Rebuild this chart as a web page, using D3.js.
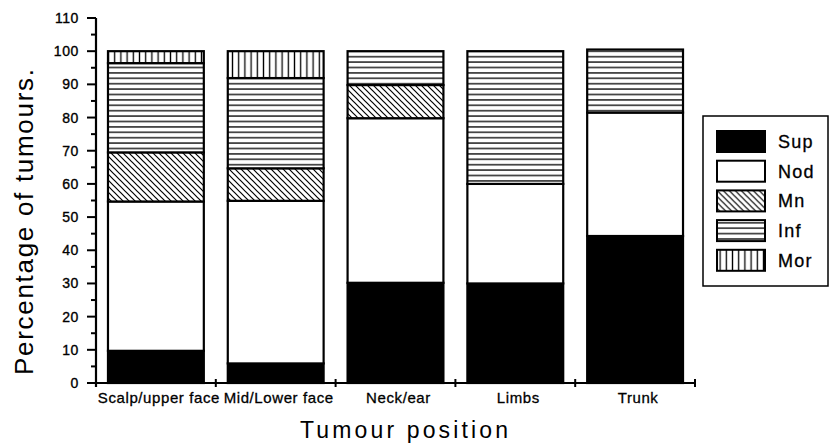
<!DOCTYPE html>
<html>
<head>
<meta charset="utf-8">
<script src="https://cdn.jsdelivr.net/npm/d3@7"></script>
<style>
  html, body { margin: 0; padding: 0; background: #fff; }
  svg { display: block; font-family: "Liberation Sans", Arial, Helvetica, sans-serif; }
</style>
</head>
<body>
<svg id="chart" width="831" height="448"></svg>
<script>
// Tumour type distribution by body site (stacked, % of tumours)
const categories = ["Scalp/upper face", "Mid/Lower face", "Neck/ear", "Limbs", "Trunk"];
const seriesNames = ["Sup", "Nod", "Mn", "Inf", "Mor"];
const sup = [9.7, 5.9, 30.2, 30, 44.3];
const nod = [45, 49, 49.6, 30, 37.2];
const mn  = [14.8, 9.8, 10, 0, 0];
const inf = [26.9, 27.2, 10.2, 40, 19];
const mor = [3.6, 8.1, 0, 0, 0];
const yTicks = [0, 10, 20, 30, 40, 50, 60, 70, 80, 90, 100, 110];

const rows = categories.map((c, i) => ({
  cat: c, Sup: sup[i], Nod: nod[i], Mn: mn[i], Inf: inf[i], Mor: mor[i]
}));

const svg = d3.select("#chart");

const x = d3.scaleBand().domain(categories).range([96, 695])
  .paddingInner(0.2).paddingOuter(0.1);
const y = d3.scaleLinear().domain([0, 110]).range([383, 18]);

// Fill patterns
const defs = svg.append("defs");
const pMn = defs.append("pattern").attr("id", "pat-mn")
  .attr("patternUnits", "userSpaceOnUse").attr("width", 6).attr("height", 6);
pMn.append("rect").attr("width", 6).attr("height", 6).attr("fill", "#fff");
pMn.append("path").attr("d", "M-1,-1 L7,7 M-4,2 L1,7 M2,-4 L7,1")
  .attr("stroke", "#000").attr("stroke-width", 1.2);

const pInf = defs.append("pattern").attr("id", "pat-inf")
  .attr("patternUnits", "userSpaceOnUse").attr("width", 8).attr("height", 5.4);
pInf.append("rect").attr("width", 8).attr("height", 5.4).attr("fill", "#fff");
pInf.append("line").attr("x1", 0).attr("x2", 8).attr("y1", 2.7).attr("y2", 2.7)
  .attr("stroke", "#000").attr("stroke-width", 1.3);

const pMor = defs.append("pattern").attr("id", "pat-mor")
  .attr("patternUnits", "userSpaceOnUse").attr("width", 6.2).attr("height", 8);
pMor.append("rect").attr("width", 6.2).attr("height", 8).attr("fill", "#fff");
pMor.append("line").attr("x1", 3.1).attr("x2", 3.1).attr("y1", 0).attr("y2", 8)
  .attr("stroke", "#000").attr("stroke-width", 1.3);

const fills = { Sup: "#000", Nod: "#fff", Mn: "url(#pat-mn)", Inf: "url(#pat-inf)", Mor: "url(#pat-mor)" };

// Stacked bars
const stacked = d3.stack().keys(seriesNames)(rows);
svg.append("g").selectAll("g").data(stacked).join("g")
  .attr("fill", d => fills[d.key])
  .selectAll("rect").data(d => d.filter(s => s[1] - s[0] > 0)).join("rect")
  .attr("x", d => x(d.data.cat))
  .attr("width", x.bandwidth())
  .attr("y", d => y(d[1]))
  .attr("height", d => y(d[0]) - y(d[1]))
  .attr("stroke", "#000").attr("stroke-width", 2.2);

// Y axis with minor ticks at the fives
const yAxis = svg.append("g").attr("transform", "translate(96,0)");
yAxis.append("line").attr("x1", 0).attr("x2", 0).attr("y1", y(110)).attr("y2", y(0) + 4)
  .attr("stroke", "#000").attr("stroke-width", 2.2);
yAxis.selectAll(".major").data(yTicks).join("line")
  .attr("x1", -9).attr("x2", 0).attr("y1", d => y(d)).attr("y2", d => y(d))
  .attr("stroke", "#000").attr("stroke-width", 2);
yAxis.selectAll(".minor").data(d3.range(5, 110, 10)).join("line")
  .attr("x1", -5).attr("x2", 0).attr("y1", d => y(d)).attr("y2", d => y(d))
  .attr("stroke", "#000").attr("stroke-width", 2);
yAxis.selectAll("text").data(yTicks).join("text")
  .attr("x", -17).attr("y", d => y(d)).attr("dy", "0.36em")
  .attr("text-anchor", "end").attr("font-size", 14).attr("letter-spacing", 0.6)
  .attr("stroke", "#000").attr("stroke-width", 0.35)
  .text(d => d);

// X axis, ticks at category boundaries
const xAxis = svg.append("g");
xAxis.append("line").attr("x1", 96).attr("x2", 695).attr("y1", y(0)).attr("y2", y(0))
  .attr("stroke", "#000").attr("stroke-width", 2.2);
const bounds = d3.range(1, categories.length + 1).map(i => x.range()[0] + i * x.step());
xAxis.selectAll(".tk").data(bounds).join("line")
  .attr("x1", d => d).attr("x2", d => d).attr("y1", y(0) - 4).attr("y2", y(0) + 4)
  .attr("stroke", "#000").attr("stroke-width", 2);
xAxis.selectAll("text").data(categories).join("text")
  .attr("x", d => x(d) + x.bandwidth() / 2 + 3).attr("y", 403)
  .attr("text-anchor", "middle").attr("font-size", 15).attr("letter-spacing", 0.6)
  .attr("stroke", "#000").attr("stroke-width", 0.3)
  .text(d => d);

// Axis titles
svg.append("text").attr("transform", "translate(33,222) rotate(-90)")
  .attr("text-anchor", "middle").attr("font-size", 26)
  .attr("textLength", 306).attr("lengthAdjust", "spacing")
  .text("Percentage of tumours.");
svg.append("text").attr("x", 404).attr("y", 438)
  .attr("text-anchor", "middle").attr("font-size", 23)
  .attr("textLength", 208).attr("lengthAdjust", "spacing")
  .text("Tumour position");

// Legend
const legend = svg.append("g");
legend.append("rect").attr("x", 703).attr("y", 116).attr("width", 125).attr("height", 170)
  .attr("fill", "#fff").attr("stroke", "#000").attr("stroke-width", 1.5);
const lg = legend.selectAll(".item").data(seriesNames).join("g")
  .attr("transform", (d, i) => `translate(717,${131 + i * 29.7})`);
lg.append("rect").attr("width", 48).attr("height", 21)
  .attr("fill", d => fills[d]).attr("stroke", "#000").attr("stroke-width", 2);
lg.append("text").attr("x", 61).attr("y", 10.5).attr("dy", "0.36em")
  .attr("font-size", 18).attr("letter-spacing", 1.2)
  .attr("stroke", "#000").attr("stroke-width", 0.3)
  .text(d => d);
</script>
</body>
</html>
